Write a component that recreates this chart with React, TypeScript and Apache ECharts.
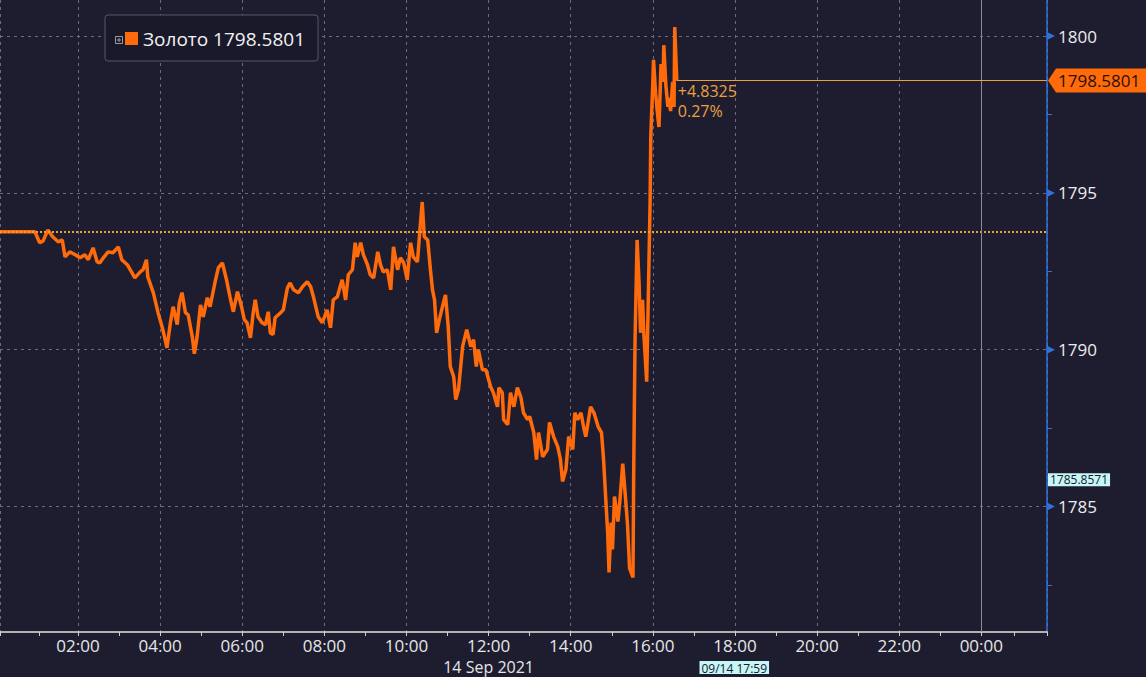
import React, { useEffect, useRef } from 'react';
import * as echarts from 'echarts';

// ---------- data ----------
const SERIES_NAME = 'Золото';
const LAST_PRICE = 1798.5801;
const PREV_CLOSE = 1793.7476;
const CHANGE_ABS = '+4.8325';
const CHANGE_PCT = '0.27%';
const DATE_LABEL = '14 Sep 2021';
const DATE_LABEL_AT = '2021-09-14 12:00';
const CROSS_TIME = '2021-09-14 17:59';
const CROSS_TIME_LABEL = '09/14 17:59';
const CROSS_VALUE = 1785.8571;
const X_MIN = '2021-09-14 00:06';
const X_MAX = '2021-09-15 01:36';
const DAY_BREAK = '2021-09-15 00:00';
const Y_MIN = 1781;
const Y_MAX = 1801.15;
const Y_TICKS = [1785, 1790, 1795, 1800];
const DAY = '2021-09-14';
const FIRST_POINT: [string, number] = ['2021-09-14 00:06', 1793.76];

const TIMES = [
  '00:57','01:04','01:09','01:16','01:23','01:31','01:37','01:41','01:48','01:56',
  '02:03','02:10','02:15','02:22','02:28','02:32','02:37','02:44','02:51','02:59',
  '03:04','03:12','03:19','03:23','03:31','03:35','03:40','03:42','03:50','03:57',
  '04:04','04:10','04:15','04:19','04:25','04:28','04:32','04:37','04:41','04:47',
  '04:50','04:54','04:59','05:03','05:09','05:13','05:21','05:25','05:31','05:37',
  '05:42','05:47','05:53','05:59','06:03','06:07','06:12','06:16','06:19','06:23',
  '06:29','06:34','06:38','06:41','06:45','06:48','06:56','07:00','07:06','07:10',
  '07:15','07:22','07:28','07:35','07:40','07:44','07:51','07:57','08:04','08:09',
  '08:13','08:19','08:23','08:26','08:31','08:35','08:41','08:45','08:48','08:53',
  '08:57','09:03','09:07','09:12','09:18','09:22','09:26','09:32','09:37','09:41',
  '09:47','09:51','09:56','10:01','10:06','10:10','10:16','10:20','10:23','10:26',
  '10:31','10:35','10:38','10:41','10:44','10:48','10:54','10:57','11:01','11:04',
  '11:09','11:12','11:16','11:22','11:28','11:34','11:38','11:42','11:45','11:51',
  '11:56','12:03','12:07','12:13','12:15','12:20','12:22','12:28','12:32','12:37',
  '12:42','12:47','12:51','12:57','13:00','13:06','13:10','13:13','13:19','13:26',
  '13:29','13:35','13:41','13:45','13:48','13:53','13:57','14:03','14:06','14:10',
  '14:15','14:19','14:22','14:26','14:29','14:34','14:40','14:45','14:48','14:51',
  '14:54','14:56','14:59','15:01','15:04','15:09','15:12','15:16','15:19','15:23',
  '15:26','15:31','15:32','15:34','15:37','15:40','15:42','15:45','15:47','15:51',
  '15:53','15:56','15:57','16:00','16:01','16:04','16:07','16:09','16:12','16:15',
  '16:16','16:19','16:22','16:23','16:26','16:29','16:31','16:32','16:35'
];

const VALUES = [
  1793.76,1793.41,1793.47,1793.82,1793.60,1793.44,1793.50,1792.96,1793.12,1793.03,
  1792.93,1793.03,1792.87,1793.25,1792.80,1792.77,1792.93,1793.12,1793.09,1793.28,
  1792.87,1792.71,1792.45,1792.29,1792.48,1792.55,1792.87,1792.32,1791.82,1791.18,
  1790.64,1790.06,1790.86,1791.37,1790.80,1791.50,1791.82,1791.18,1791.11,1790.41,
  1789.87,1790.41,1791.43,1791.05,1791.66,1791.37,1792.23,1792.61,1792.77,1792.23,
  1791.69,1791.21,1791.85,1791.37,1790.96,1790.86,1790.38,1791.18,1791.59,1791.05,
  1790.86,1790.80,1791.21,1790.54,1790.48,1791.02,1791.18,1791.27,1791.97,1792.13,
  1791.91,1791.82,1792.01,1792.17,1792.01,1791.69,1791.05,1790.86,1791.27,1790.70,
  1791.59,1791.69,1792.01,1792.23,1791.59,1792.39,1792.55,1793.41,1792.96,1793.41,
  1793.03,1792.71,1792.39,1792.29,1793.12,1792.71,1792.48,1792.55,1791.91,1793.28,
  1792.55,1792.93,1792.77,1792.23,1793.41,1792.96,1792.80,1793.92,1794.71,1793.60,
  1793.50,1792.55,1791.91,1791.59,1790.54,1790.96,1791.50,1791.75,1790.73,1789.46,
  1789.14,1788.41,1788.73,1790.10,1790.64,1790.10,1790.32,1789.46,1790.00,1789.36,
  1789.36,1788.82,1788.63,1788.18,1788.79,1788.63,1787.77,1787.61,1788.63,1788.18,
  1788.79,1788.50,1787.99,1787.77,1787.87,1787.36,1786.50,1787.36,1786.59,1786.82,
  1787.68,1787.23,1786.91,1786.50,1785.80,1786.18,1787.23,1786.82,1787.99,1787.77,
  1787.99,1787.52,1787.23,1787.77,1788.18,1787.99,1787.55,1787.36,1786.50,1785.32,
  1784.17,1782.90,1784.49,1783.63,1785.32,1784.52,1785.22,1786.37,1785.57,1784.43,
  1783.03,1782.74,1786.02,1790.32,1793.50,1792.07,1790.54,1791.59,1790.45,1788.98,
  1791.24,1794.71,1796.82,1798.54,1799.24,1798.18,1797.48,1797.10,1799.11,1798.54,
  1799.71,1798.44,1797.74,1798.03,1797.61,1798.54,1797.74,1800.29,1798.58
];

// ---------- helpers ----------
function parseLocal(s: string): number {
  const [d, t] = s.split(' ');
  const [y, m, day] = d.split('-').map(Number);
  const [h, mi] = t.split(':').map(Number);
  return new Date(y, m - 1, day, h, mi).getTime();
}

const BG = '#1e1d30';
const ORANGE = '#ff6a0a';
const GOLD = '#eba040';
const GRID_LINE = '#6c6c80';
const AXIS_BLUE = '#2f72dc';
const FONT = 'Open Sans';

export default function App() {
  const ref = useRef<HTMLDivElement>(null);

  useEffect(() => {
    document.body.style.margin = '0';
    document.body.style.background = BG;
    const el = ref.current!;
    const chart = echarts.init(el, undefined, { renderer: 'svg' });

    const data: [number, number][] = [
      [parseLocal(FIRST_POINT[0]), FIRST_POINT[1]],
      ...TIMES.map((t, i) => [parseLocal(DAY + ' ' + t), VALUES[i]] as [number, number]),
    ];
    const lastT = data[data.length - 1][0];
    const xMin = parseLocal(X_MIN);
    const xMax = parseLocal(X_MAX);

    chart.setOption({
      animation: false,
      backgroundColor: BG,
      textStyle: { fontFamily: FONT },
      grid: { left: 0, right: 99, top: 0, bottom: 45, containLabel: false, outerBoundsMode: 'none' },
      legend: {
        show: true,
        left: 105,
        top: 15,
        padding: [14, 13, 13, 20],
        backgroundColor: '#1a192a',
        borderColor: '#56566a',
        borderWidth: 1,
        borderRadius: 3,
        itemWidth: 13,
        itemHeight: 13,
        icon: 'rect',
        selectedMode: false,
        textStyle: { color: '#f2f2f2', fontSize: 19, fontFamily: FONT },
        formatter: (name: string) => `${name} ${LAST_PRICE.toFixed(4)}`,
        data: [SERIES_NAME],
      },
      xAxis: {
        type: 'time',
        min: xMin,
        max: xMax,
        splitNumber: 10,
        axisLine: { show: true, lineStyle: { color: '#e0e0e0', width: 1.5 } },
        axisTick: { show: true, length: 4, lineStyle: { color: '#d0d0d0' } },
        minorTick: { show: true, splitNumber: 2, length: 4, lineStyle: { color: '#d0d0d0' } },
        axisLabel: {
          color: '#e6e6e6',
          fontSize: 17,
          lineHeight: 16,
          margin: 5,
          fontFamily: FONT,
          formatter: '{HH}:{mm}',
          hideOverlap: false,
          showMinLabel: false,
          showMaxLabel: false,
        },
        splitLine: { show: true, lineStyle: { color: GRID_LINE, type: [3, 4], width: 1 } },
      },
      yAxis: {
        type: 'value',
        position: 'right',
        min: Y_MIN,
        max: Y_MAX,
        splitNumber: 4,
        axisLine: { show: true, lineStyle: { color: AXIS_BLUE, width: 1.5 } },
        axisTick: { show: false },
        minorTick: { show: true, splitNumber: 2, length: 5, lineStyle: { color: AXIS_BLUE } },
        axisLabel: {
          color: '#ececec',
          fontSize: 17,
          margin: 11,
          fontFamily: FONT,
          showMinLabel: false,
          showMaxLabel: false,
          formatter: (v: number) => String(v),
        },
        splitLine: {
          show: true,
          showMinLine: false,
          showMaxLine: false,
          lineStyle: { color: GRID_LINE, type: [3, 4], width: 1 },
        },
      },
      series: [
        {
          name: SERIES_NAME,
          type: 'line',
          data,
          showSymbol: false,
          symbol: 'none',
          lineStyle: { color: ORANGE, width: 3.5 },
          itemStyle: { color: ORANGE },
          z: 3,
          markLine: {
            silent: true,
            symbol: ['none', 'none'],
            label: { show: false },
            data: [
              { yAxis: PREV_CLOSE, lineStyle: { color: GOLD, type: [2, 2], width: 2 } },
              { xAxis: parseLocal(DAY_BREAK), lineStyle: { color: '#8c8c96', type: 'solid', width: 1 } },
              [
                { coord: [lastT, LAST_PRICE], lineStyle: { color: GOLD, type: 'solid', width: 1 } },
                { coord: [xMax, LAST_PRICE] },
              ],
            ],
          },
        },
      ],
    });

    const px = (t: number) => chart.convertToPixel({ xAxisIndex: 0 }, t) as number;
    const py = (v: number) => chart.convertToPixel({ yAxisIndex: 0 }, v) as number;

    const xR = px(xMax);
    const yLast = py(LAST_PRICE);
    const xLast = px(lastT);
    const yCross = py(CROSS_VALUE);
    const xCross = px(parseLocal(CROSS_TIME));
    const xDate = px(parseLocal(DATE_LABEL_AT));

    const graphics: any[] = [];
    Y_TICKS.forEach((v) => {
      const y = py(v);
      graphics.push({
        type: 'polygon',
        shape: { points: [[xR, y - 4], [xR + 8, y], [xR, y + 4]] },
        style: { fill: AXIS_BLUE },
        z: 100,
      });
    });
    graphics.push({
      type: 'polygon',
      shape: {
        points: [[xR + 1, yLast], [xR + 9, yLast - 12], [1146, yLast - 12], [1146, yLast + 12], [xR + 9, yLast + 12]],
      },
      style: { fill: ORANGE },
      z: 100,
    });
    graphics.push({
      type: 'text',
      x: xR + 11,
      y: yLast,
      style: {
        text: LAST_PRICE.toFixed(4),
        fill: '#2a1004',
        font: `17px "${FONT}"`,
        verticalAlign: 'middle',
        align: 'left',
      },
      z: 101,
    });
    [CHANGE_ABS, CHANGE_PCT].forEach((txt, i) => {
      graphics.push({
        type: 'text',
        x: xLast + 1,
        y: yLast + 2 + i * 20,
        style: {
          text: txt,
          fill: GOLD,
          font: `16px "${FONT}"`,
          verticalAlign: 'top',
          align: 'left',
        },
        z: 101,
      });
    });
    graphics.push({
      type: 'text',
      x: xR + 1,
      y: yCross,
      style: {
        text: CROSS_VALUE.toFixed(4),
        fill: '#15202a',
        font: `12px "${FONT}"`,
        backgroundColor: '#c6f6f6',
        padding: [1, 2, 0, 2],
        verticalAlign: 'middle',
        align: 'left',
      },
      z: 101,
    });
    graphics.push({
      type: 'text',
      x: xCross,
      y: 661,
      style: {
        text: CROSS_TIME_LABEL,
        fill: '#15202a',
        font: `12px "${FONT}"`,
        backgroundColor: '#c6f6f6',
        padding: [1, 2, 0, 2],
        verticalAlign: 'top',
        align: 'center',
      },
      z: 101,
    });
    graphics.push({
      type: 'text',
      x: xDate,
      y: 659,
      style: {
        text: DATE_LABEL,
        fill: '#e6e6e6',
        font: `16px "${FONT}"`,
        lineHeight: 16,
        verticalAlign: 'top',
        align: 'center',
      },
      z: 101,
    });
    graphics.push({ type: 'rect', shape: { x: 115.5, y: 36.5, width: 7, height: 7 }, style: { fill: 'none', stroke: '#9a9aa6', lineWidth: 1 }, z: 200 });
    graphics.push({ type: 'line', shape: { x1: 117, y1: 40, x2: 121, y2: 40 }, style: { stroke: '#9a9aa6', lineWidth: 1 }, z: 200 });
    graphics.push({ type: 'line', shape: { x1: 119, y1: 38, x2: 119, y2: 42 }, style: { stroke: '#9a9aa6', lineWidth: 1 }, z: 200 });

    chart.setOption({ graphic: graphics });

    return () => {
      chart.dispose();
    };
  }, []);

  return (
    <div
      ref={ref}
      style={{ position: 'absolute', left: 0, top: 0, width: 1146, height: 677 }}
    />
  );
}
